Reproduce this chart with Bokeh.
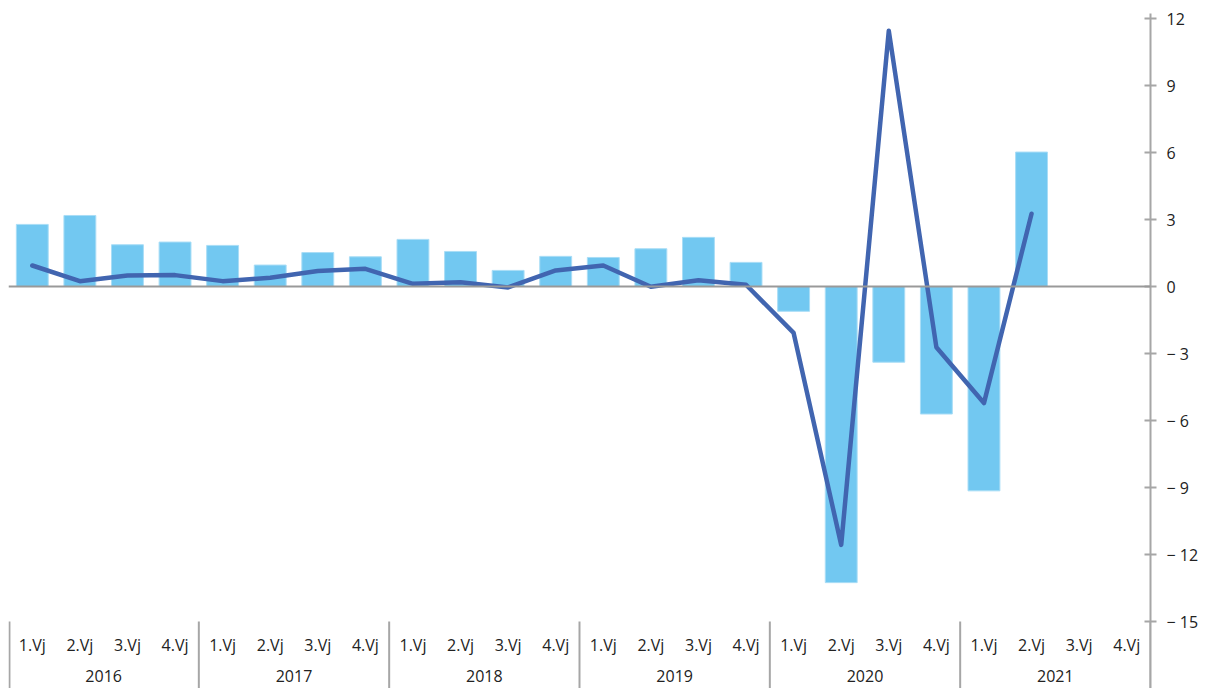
import math
from bokeh.plotting import figure
from bokeh.models import ColumnDataSource, LinearAxis, FixedTicker, Span, Range1d
from bokeh.core.properties import value
from bokeh.embed import file_html
from bokeh.resources import INLINE

years = ["2016", "2017", "2018", "2019", "2020", "2021"]
quarters = ["1.Vj", "2.Vj", "3.Vj", "4.Vj"]

bar_values = [2.78, 3.18, 1.87, 1.99,
              1.84, 0.96, 1.52, 1.33,
              2.11, 1.57, 0.72, 1.35,
              1.30, 1.69, 2.20, 1.08,
              -1.11, -13.26, -3.39, -5.71,
              -9.15, 6.02, None, None]

line_values = [0.94, 0.24, 0.49, 0.51,
               0.24, 0.39, 0.69, 0.79,
               0.12, 0.19, -0.04, 0.72,
               0.94, -0.01, 0.28, 0.08,
               -2.08, -11.57, 11.45, -2.72,
               -5.22, 3.26, None, None]

y_ticks = [-15, -12, -9, -6, -3, 0, 3, 6, 9, 12]

BAR_COLOR = "#72C8F1"
LINE_COLOR = "#4165B0"
AXIS_GRAY = "#A6A6A6"
TEXT_COLOR = "#222222"
FONT = "Open Sans"

n = len(years) * len(quarters)
centers = [i + 0.5 for i in range(n)]

bx = [centers[i] for i in range(n) if bar_values[i] is not None]
bt = [bar_values[i] for i in range(n) if bar_values[i] is not None]
lx = [centers[i] for i in range(n) if line_values[i] is not None]
ly = [line_values[i] for i in range(n) if line_values[i] is not None]

p = figure(frame_width=1142, frame_height=675, output_backend="svg",
           toolbar_location=None, x_range=Range1d(0, n), y_range=Range1d(-18.0, 12.224),
           min_border_left=8, min_border_top=13, min_border_bottom=0, min_border_right=5,
           x_axis_location=None, y_axis_location=None)
p.outline_line_color = None
p.xgrid.visible = False
p.ygrid.visible = False
p.background_fill_color = "white"
p.border_fill_color = "white"

p.vbar(x=bx, top=bt, bottom=0, width=0.67, fill_color=BAR_COLOR,
       line_color="#A9DDF6", line_width=1)

zero = Span(location=0, dimension="width", line_color="#999999", line_width=2)
p.add_layout(zero)

p.line(x=lx, y=ly, line_color=LINE_COLOR, line_width=4.5,
       line_join="round", line_cap="round")

yaxis = LinearAxis(ticker=FixedTicker(ticks=y_ticks))
yaxis.major_label_overrides = {t: (("\u2212 " + str(abs(t))) if t < 0 else str(t)) for t in y_ticks}
yaxis.axis_line_color = AXIS_GRAY
yaxis.axis_line_width = 2
yaxis.major_tick_line_color = AXIS_GRAY
yaxis.major_tick_line_width = 2
yaxis.major_tick_in = 6
yaxis.major_tick_out = 6
yaxis.minor_tick_line_color = None
yaxis.major_label_standoff = 10
yaxis.major_label_text_font = FONT
yaxis.major_label_text_font_size = "16px"
yaxis.major_label_text_color = TEXT_COLOR
p.add_layout(yaxis, "right")

# category labels (quarters) and group labels (years)
qx = centers
qt = [quarters[i % 4] for i in range(n)]
p.text(x=qx, y=[-16.05] * n, text=qt, text_align="center", text_baseline="middle",
       text_font=value(FONT), text_font_size="16px", text_color=TEXT_COLOR)

gx = [4 * k + 2 for k in range(len(years))]
p.text(x=gx, y=[-17.45] * len(years), text=years, text_align="center",
       text_baseline="middle", text_font=value(FONT), text_font_size="16px",
       text_color=TEXT_COLOR)

sx = [4 * k for k in range(len(years) + 1)]
sx[0] = 0.02
p.segment(x0=sx, y0=[-15.0] * len(sx), x1=sx, y1=[-18.0] * len(sx),
          line_color=AXIS_GRAY, line_width=2)

open("out.html", "w").write(file_html(p, INLINE))
